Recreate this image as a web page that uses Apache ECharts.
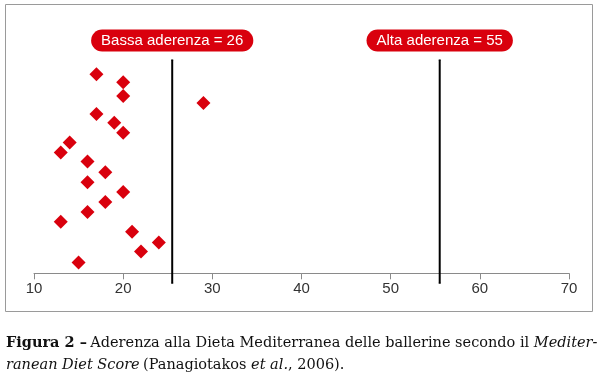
<!DOCTYPE html>
<html><head><meta charset="utf-8">
<script src="https://cdn.jsdelivr.net/npm/echarts@6/dist/echarts.min.js"></script>
<style>html,body{margin:0;padding:0;background:#fff}#c{width:600px;height:379px}</style>
</head><body><div id="c"></div>
<script>
// Mediterranean Diet Score of each dancer (x) and its row position (y, jitter rank)
const scores = [17, 20, 20, 29, 17, 19, 20, 14, 13, 16, 18, 16, 20, 18, 16, 13, 21, 24, 22, 15];
const rows   = [20.1, 19.3, 17.9, 17.2, 16.1, 15.2, 14.2, 13.2, 12.2, 11.3, 10.2, 9.2, 8.2, 7.2, 6.2, 5.2, 4.2, 3.1, 2.2, 1.1];
const thresholds = [25.5, 55.5];
const thresholdLabels = ['Bassa aderenza = 26', 'Alta aderenza = 55'];
const xTicks = [10, 20, 30, 40, 50, 60, 70];
const lineRows = [-1, 21.55];

const chart = echarts.init(document.getElementById('c'));
const red = '#d9000d';
const thresholdSeries = thresholds.map((t, i) => ({
  type: 'line',
  clip: false,
  silent: true,
  symbol: 'rect',
  symbolSize: [2, 1],
  showSymbol: true,
  itemStyle: { color: '#000' },
  lineStyle: { color: '#000', width: 2 },
  label: { show: false },
  data: lineRows.map((r, j) => ({
    value: [t, r],
    label: j === 1 ? {
      show: true, position: 'top', distance: 8,
      formatter: thresholdLabels[i],
      color: '#fff', fontSize: 15, lineHeight: 16,
      fontFamily: "'Liberation Sans Narrow','Arial Narrow','Liberation Sans',sans-serif",
      backgroundColor: red, borderRadius: 11, padding: [3, 10]
    } : { show: false }
  })),
  z: 3
}));

chart.setOption({
  animation: false,
  grid: { left: 34, right: 31, top: 55.5, bottom: 105.7 },
  xAxis: {
    type: 'value', min: xTicks[0], max: xTicks[xTicks.length - 1], interval: 10,
    axisLine: { lineStyle: { color: '#8a8a8a', width: 1 } },
    axisTick: { show: true, length: 6, lineStyle: { color: '#8a8a8a' } },
    splitLine: { show: false },
    axisLabel: { color: '#333', fontSize: 15, margin: 8, fontFamily: "'Liberation Sans Narrow','Liberation Sans',sans-serif" }
  },
  yAxis: { type: 'value', min: 0, max: 22, show: false, splitLine: { show: false } },
  series: [
    {
      type: 'scatter',
      symbol: 'diamond',
      symbolSize: 14,
      itemStyle: { color: red, opacity: 1 },
      data: scores.map((s, i) => [s, rows[i]]),
      z: 4
    },
    ...thresholdSeries
  ],
  graphic: [
    { type: 'rect', shape: { x: 5.5, y: 4.5, width: 587, height: 307 }, style: { fill: null, stroke: '#9a9a9a', lineWidth: 1 }, z: -1 },
    {
      type: 'text', left: 6, top: 336,
      style: {
        text: '{b|Figura 2 –} {n|Aderenza alla Dieta Mediterranea delle ballerine secondo il }{i|Mediter-}\n{i|ranean Diet Score} {n|(Panagiotakos }{i|et al.}{n|, 2006).}',
        rich: {
          b: { fontFamily: "'DejaVu Serif',serif", fontWeight: 'bold', fontSize: 14.5, fill: '#111', lineHeight: 22 },
          n: { fontFamily: "'DejaVu Serif',serif", fontSize: 14.5, fill: '#111', lineHeight: 22 },
          i: { fontFamily: "'DejaVu Serif',serif", fontStyle: 'italic', fontSize: 14.5, fill: '#111', lineHeight: 22 }
        }
      }
    }
  ]
});
</script></body></html>
